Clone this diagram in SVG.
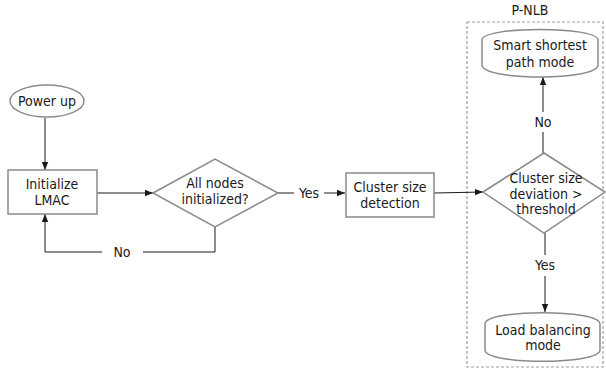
<svg xmlns="http://www.w3.org/2000/svg" width="606" height="369" viewBox="0 0 606 369">
  <style>
    .shape { fill: #fff; stroke: #8a8a8a; stroke-width: 1.5; }
    .wire { fill: none; stroke: #1a1a1a; stroke-width: 1; }
    .frame { fill: none; stroke: #a0a0a0; stroke-width: 1.2; stroke-dasharray: 3 2; }
    text { font-family: "DejaVu Sans Condensed", "DejaVu Sans", "Liberation Sans", sans-serif; font-stretch: condensed; font-size: 14px; fill: #1a1a1a; text-anchor: middle; }
  </style>
  <defs>
    <marker id="arrow" viewBox="0 0 10 10" refX="10" refY="5" markerWidth="8" markerHeight="8" markerUnits="userSpaceOnUse" orient="auto">
      <path d="M0,1 L10,5 L0,9 Z" fill="#1a1a1a"/>
    </marker>
  </defs>

  <rect width="606" height="369" fill="#fff"/>

  <!-- P-NLB region -->
  <g id="pnlb">
    <rect class="frame" x="467" y="22" width="136" height="345"/>
    <text x="530" y="15">P-NLB</text>
  </g>

  <!-- connectors -->
  <g id="connectors">
    <path class="wire" d="M45,118 V170" marker-end="url(#arrow)"/>
    <path class="wire" d="M97,193 H153" marker-end="url(#arrow)"/>
    <path class="wire" d="M215,227 V252 H143"/>
    <path class="wire" d="M102,252 H45 V214" marker-end="url(#arrow)"/>
    <path class="wire" d="M278,193 H294"/>
    <path class="wire" d="M324,193 H345" marker-end="url(#arrow)"/>
    <path class="wire" d="M434,193 L483,192" marker-end="url(#arrow)"/>
    <path class="wire" d="M543,153 V132"/>
    <path class="wire" d="M543,112 V77" marker-end="url(#arrow)"/>
    <path class="wire" d="M545,233 V255"/>
    <path class="wire" d="M545,276 V312" marker-end="url(#arrow)"/>
    <text x="122" y="257">No</text>
    <text x="309" y="198">Yes</text>
    <text x="543" y="127">No</text>
    <text x="545" y="270">Yes</text>
  </g>

  <g id="power-up">
    <ellipse class="shape" cx="47" cy="101" rx="37" ry="16"/>
    <text x="47" y="106">Power up</text>
  </g>

  <g id="init-lmac">
    <rect class="shape" x="8" y="170" width="89" height="44"/>
    <text x="52" y="189">Initialize</text>
    <text x="52" y="205">LMAC</text>
  </g>

  <g id="all-nodes">
    <polygon class="shape" points="153,193 215,159 278,193 215,227"/>
    <text x="215" y="188">All nodes</text>
    <text x="215" y="204">initialized?</text>
  </g>

  <g id="cluster-detect">
    <rect class="shape" x="346" y="173" width="88" height="44"/>
    <text x="390" y="192">Cluster size</text>
    <text x="390" y="208">detection</text>
  </g>

  <g id="deviation">
    <polygon class="shape" points="483,192 544,153 605,192 544,233"/>
    <text x="546" y="183">Cluster size</text>
    <text x="546" y="199">deviation &gt;</text>
    <text x="546" y="214">threshold</text>
  </g>

  <g id="shortest-path">
    <path class="shape" d="M482,40 C482,26 598,26 598,40 V65 C598,81 482,81 482,65 Z"/>
    <text x="540" y="50">Smart shortest</text>
    <text x="540" y="67">path mode</text>
  </g>

  <g id="load-balancing">
    <path class="shape" d="M485,324 C485,309 600,309 600,324 V350 C600,365 485,365 485,350 Z"/>
    <text x="543" y="335">Load balancing</text>
    <text x="543" y="350">mode</text>
  </g>
</svg>
